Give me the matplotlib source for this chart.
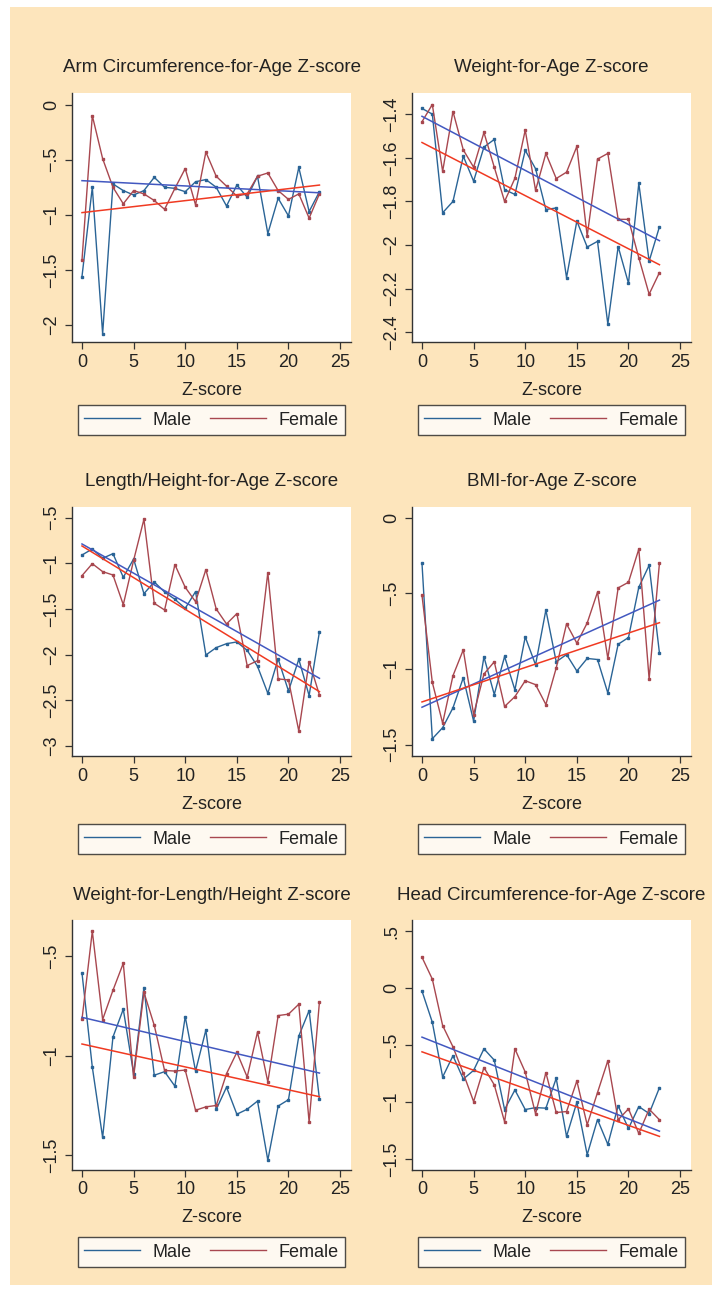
import matplotlib.pyplot as plt
import numpy as np
from matplotlib.patches import Rectangle

plt.rcParams['font.family'] = ['Liberation Sans', 'DejaVu Sans']

ages = np.arange(24)

titles = ["Arm Circumference-for-Age Z-score", "Weight-for-Age Z-score",
          "Length/Height-for-Age Z-score", "BMI-for-Age Z-score",
          "Weight-for-Length/Height Z-score", "Head Circumference-for-Age Z-score"]

# mean z-scores per month
armMale = [-1.56, -0.75, -2.08, -0.72, -0.78, -0.82, -0.78, -0.66, -0.75, -0.76, -0.79, -0.70,
           -0.68, -0.75, -0.92, -0.73, -0.84, -0.65, -1.17, -0.85, -1.01, -0.57, -0.97, -0.79]
armFemale = [-1.41, -0.10, -0.49, -0.75, -0.90, -0.78, -0.81, -0.87, -0.95, -0.76, -0.58, -0.91,
             -0.43, -0.65, -0.74, -0.83, -0.81, -0.65, -0.62, -0.78, -0.86, -0.81, -1.03, -0.81]

weightMale = [-1.374, -1.40, -1.852, -1.80, -1.593, -1.707, -1.551, -1.516, -1.746, -1.768, -1.566, -1.65,
              -1.837, -1.83, -2.149, -1.89, -2.009, -1.983, -2.362, -2.007, -2.175, -1.717, -2.074, -1.916]
weightFemale = [-1.435, -1.356, -1.662, -1.388, -1.564, -1.643, -1.484, -1.643, -1.80, -1.694, -1.473, -1.749,
                -1.58, -1.695, -1.666, -1.548, -1.959, -1.606, -1.58, -1.882, -1.882, -2.058, -2.225, -2.126]

heightMale = [-0.909, -0.843, -0.945, -0.894, -1.153, -0.953, -1.332, -1.204, -1.314, -1.394, -1.493, -1.31,
              -2.004, -1.923, -1.88, -1.861, -1.953, -2.128, -2.423, -2.047, -2.398, -2.051, -2.449, -1.748]
heightFemale = [-1.135, -1.004, -1.091, -1.128, -1.453, -0.967, -0.518, -1.438, -1.511, -1.015, -1.263, -1.42,
                -1.069, -1.50, -1.664, -1.551, -2.12, -2.066, -1.102, -2.266, -2.277, -2.836, -2.077, -2.442]

bmiMale = [-0.302, -1.46, -1.387, -1.256, -1.057, -1.344, -0.919, -1.168, -0.917, -1.138, -0.788, -0.972,
           -0.61, -0.952, -0.904, -1.013, -0.93, -0.937, -1.158, -0.836, -0.792, -0.46, -0.315, -0.895]
bmiFemale = [-0.514, -1.088, -1.357, -1.044, -0.873, -1.30, -1.033, -0.952, -1.247, -1.182, -1.077, -1.103,
             -1.234, -0.993, -0.702, -0.829, -0.696, -0.492, -0.93, -0.464, -0.427, -0.208, -1.066, -0.30]

wflMale = [-0.584, -1.057, -1.411, -0.906, -0.766, -1.09, -0.657, -1.098, -1.08, -1.153, -0.803, -1.077,
           -0.871, -1.27, -1.158, -1.294, -1.269, -1.228, -1.525, -1.253, -1.221, -0.901, -0.773, -1.219]
wflFemale = [-0.817, -0.374, -0.818, -0.671, -0.535, -1.107, -0.681, -0.847, -1.074, -1.077, -1.072, -1.274,
             -1.257, -1.25, -1.09, -0.983, -1.107, -0.881, -1.132, -0.798, -0.791, -0.741, -1.334, -0.729]

headMale = [-0.026, -0.30, -0.781, -0.595, -0.799, -0.723, -0.534, -0.633, -1.067, -0.895, -1.067, -1.05,
            -1.055, -0.793, -1.303, -1.003, -1.464, -1.155, -1.373, -1.035, -1.233, -1.041, -1.102, -0.875]
headFemale = [0.271, 0.079, -0.329, -0.516, -0.749, -0.997, -0.698, -0.85, -1.175, -0.534, -0.738, -1.105,
              -0.743, -1.093, -1.085, -0.816, -1.201, -0.918, -0.638, -1.157, -1.061, -1.277, -1.064, -1.157]

# fitted lines as drawn: (value at age 0, value at age 23)
fitMale = [(-0.69, -0.80), (-1.41, -1.98), (-0.788, -2.259), (-1.252, -0.545), (-0.807, -1.087), (-0.431, -1.257)]
fitFemale = [(-0.98, -0.73), (-1.53, -2.09), (-0.81, -2.405), (-1.217, -0.694), (-0.941, -1.206), (-0.56, -1.303)]

yTicks = [[0, -0.5, -1, -1.5, -2],
          [-1.4, -1.6, -1.8, -2, -2.2, -2.4],
          [-0.5, -1, -1.5, -2, -2.5, -3],
          [0, -0.5, -1, -1.5],
          [-0.5, -1, -1.5],
          [0.5, 0, -0.5, -1, -1.5]]
yLimits = [(-2.154, 0.106), (-2.444, -1.303), (-3.11, -0.383), (-1.574, 0.07), (-1.572, -0.32), (-1.594, 0.594)]

males = [armMale, weightMale, heightMale, bmiMale, wflMale, headMale]
females = [armFemale, weightFemale, heightFemale, bmiFemale, wflFemale, headFemale]

maleColor = '#2A6496'
femaleColor = '#A8474F'
fitBlue = '#4258C0'
fitRed = '#F03A22'
textColor = '#222222'


def tickLabel(v):
    s = ('%g' % abs(v))
    if s.startswith('0.'):
        s = s[1:]
    return ('\u2212' + s) if v < 0 else s


fig = plt.figure(figsize=(7.14, 12.91), dpi=100)
fig.patch.set_facecolor('white')
fig.patches.append(Rectangle((10 / 714, 1 - 1285 / 1291), 702 / 714, 1278 / 1291,
                             transform=fig.transFigure, facecolor='#FDE5BC', edgecolor='none', zorder=-10))

lefts = [0.1008, 0.577]
bottoms = [0.7351, 0.4144, 0.0941]
legendY = [-0.255, -0.275, -0.272]

for i in range(6):
    ax = fig.add_axes([lefts[i % 2], bottoms[i // 2], 0.391, 0.1929])
    ax.set_facecolor('white')

    m0, m1 = fitMale[i]
    f0, f1 = fitFemale[i]
    ax.plot([0, 23], [m0, m1], color=fitBlue, lw=1.1, zorder=3)
    ax.plot([0, 23], [f0, f1], color=fitRed, lw=1.1, zorder=3)
    ax.plot(ages, males[i], color=maleColor, lw=1.0, marker='s', markersize=1.8, label='Male', zorder=2)
    ax.plot(ages, females[i], color=femaleColor, lw=1.0, marker='s', markersize=1.8, label='Female', zorder=2)

    ax.set_xlim(-0.97, 26.07)
    ax.set_ylim(*yLimits[i])
    ax.set_xticks([0, 5, 10, 15, 20, 25])
    ax.set_yticks(yTicks[i])
    ax.set_yticklabels([tickLabel(v) for v in yTicks[i]], rotation=90, va='center')

    for side in ['top', 'right']:
        ax.spines[side].set_visible(False)
    for side in ['left', 'bottom']:
        ax.spines[side].set_color('#333333')
        ax.spines[side].set_linewidth(1.0)
    ax.tick_params(colors='#333333', labelcolor=textColor, labelsize=13, length=5, width=0.9)

    ax.set_title(titles[i], fontsize=13.5, color=textColor, pad=15)
    ax.set_xlabel('Z-score', fontsize=13, color=textColor, labelpad=8)

    leg = ax.legend(loc='upper center', bbox_to_anchor=(0.5, legendY[i // 2]), ncol=2, fontsize=13,
                    frameon=True, fancybox=False, borderaxespad=0, handlelength=3.1,
                    handletextpad=0.7, columnspacing=1.0, borderpad=0.35)
    leg.get_frame().set_edgecolor('#222222')
    leg.get_frame().set_linewidth(1.0)
    for line in leg.get_lines():
        line.set_marker('')
    for t in leg.get_texts():
        t.set_color(textColor)

fig.savefig('out.png', dpi=100, facecolor=fig.get_facecolor())
